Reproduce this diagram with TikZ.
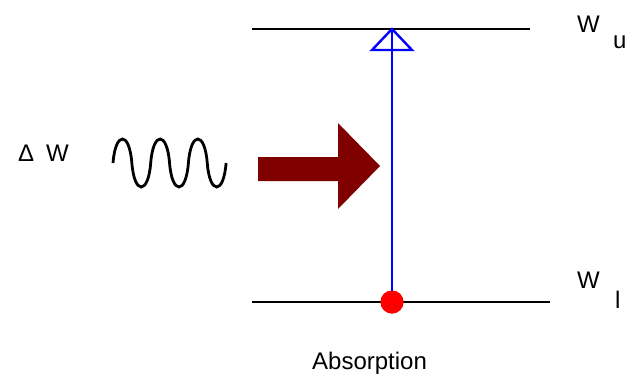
\documentclass[tikz,border=0pt]{standalone}
\usepackage{fontspec}
\setmainfont{Liberation Sans}
\definecolor{darkred}{HTML}{800000}
\begin{document}
\begin{tikzpicture}[x=1pt,y=-1pt,
  lbl/.style={inner sep=0pt,anchor=base west,font=\fontsize{24}{28}\selectfont},
  level/.style={line width=2.4pt,black},
  trans/.style={line width=2.4pt,blue}]
\useasboundingbox (0,0) rectangle (628,375);
% levels
\coordinate (ul) at (252,29);
\coordinate (ur) at (530,29);
\coordinate (ll) at (252,302);
\coordinate (lr) at (550,302);
\draw[level] (ul) -- (ur);
\draw[level] (ll) -- (lr);
% transition
\coordinate (top) at (392,29);
\node[circle,fill=red,minimum size=23pt,inner sep=0pt] (dot) at (392,302) {};
\draw[trans] (dot.center) -- (top);
\draw[trans,line join=miter] (372,50) -- (top) -- (412,50) -- cycle;
\node[circle,fill=red,minimum size=23pt,inner sep=0pt] at (dot) {};
% big arrow
\fill[darkred] (258,157) -- (338,157) -- (338,123) -- (380,166) -- (338,209) -- (338,181) -- (258,181) -- cycle;
% wave
\draw[line width=2.8pt]
  (113,163)
  \foreach \i in {0,1,2} {
    .. controls (113+37.7*\i+2.5,131) and (113+37.7*\i+16.35,131) .. (113+37.7*\i+18.85,163)
    .. controls (113+37.7*\i+21.35,195) and (113+37.7*\i+35.2,195) .. (113+37.7*\i+37.7,163)
  };
% labels
\node[lbl] (dw) at (18,161) {Δ};
\node[lbl] (w) at (46,161) {W};
\node[lbl] (wu) at (577,32) {W};
\node[lbl] (u) at (613,48) {u};
\node[lbl] (wl) at (577,288) {W};
\node[lbl] (l) at (615,308) {l};
\node[lbl] (abs) at (312,369) {Absorption};
\end{tikzpicture}
\end{document}
